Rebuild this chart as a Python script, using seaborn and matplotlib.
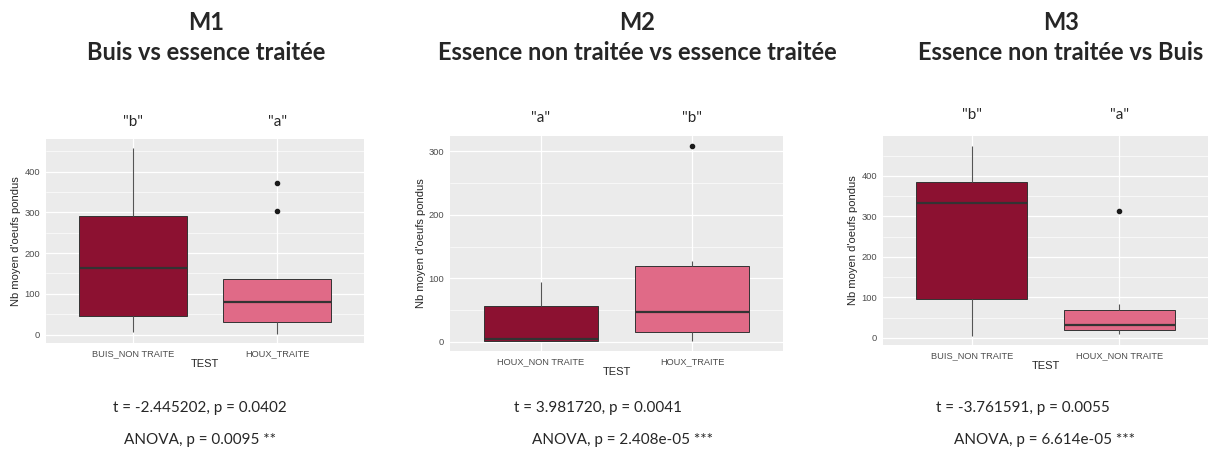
import numpy as np
import pandas as pd
import matplotlib
matplotlib.use("Agg")
import matplotlib.pyplot as plt
import seaborn as sns

W, H = 1210, 454

# ---- data ----
m1_groups = ["BUIS_NON TRAITE", "HOUX_TRAITE"]
m1_buis_non_traite = [7, 45, 163, 290, 457]
m1_houx_traite = [2, 15, 30, 55, 79, 110, 136, 303, 371]

m2_groups = ["HOUX_NON TRAITE", "HOUX_TRAITE"]
m2_houx_non_traite = [1, 1.5, 5, 56, 95]
m2_houx_traite = [1, 8, 16, 30, 47, 90, 120, 127, 309]

m3_groups = ["BUIS_NON TRAITE", "HOUX_NON TRAITE"]
m3_buis_non_traite = [6, 95, 334, 385, 475]
m3_houx_non_traite = [10, 15, 20, 28, 33, 50, 68, 83, 314]

model_names = ["M1", "M2", "M3"]
subtitles = ["Buis vs essence traitée",
             "Essence non traitée vs essence traitée",
             "Essence non traitée vs Buis"]
letters = [['"b"', '"a"'], ['"a"', '"b"'], ['"b"', '"a"']]
t_tests = ["t = -2.445202, p = 0.0402",
           "t = 3.981720, p = 0.0041",
           "t = -3.761591, p = 0.0055"]
anovas = ["ANOVA, p = 0.0095 **",
          "ANOVA, p = 2.408e-05 ***",
          "ANOVA, p = 6.614e-05 ***"]

dark_red = "#8C1131"
pink = "#E06A87"

panels = [
    (m1_groups, [m1_buis_non_traite, m1_houx_traite]),
    (m2_groups, [m2_houx_non_traite, m2_houx_traite]),
    (m3_groups, [m3_buis_non_traite, m3_houx_non_traite]),
]

# layout in pixels: axes box (left, top, right, bottom)
ax_boxes = [(46, 139, 364, 343), (450, 136, 783, 351), (883, 136, 1208, 345)]
title_x = [206, 637, 1061]
letter_y = [122, 118, 115]
t_pos = [(200, 408), (598, 408), (1023, 408)]
anova_pos = [(200, 440), (623, 440), (1044, 440)]

sns.set_theme(style="darkgrid", rc={
    "axes.facecolor": "#EBEBEB",
    "grid.color": "white",
    "figure.facecolor": "white",
})
plt.rcParams["font.family"] = ["Liberation Sans", "DejaVu Sans"]

fig = plt.figure(figsize=(W / 100, H / 100), dpi=100)


def rect(l, t, r, b):
    return [l / W, 1 - b / H, (r - l) / W, (b - t) / H]


for i, (groups, values) in enumerate(panels):
    df = pd.DataFrame({
        "TEST": np.repeat(groups, [len(v) for v in values]),
        "oeufs": np.concatenate(values),
    })
    ax = fig.add_axes(rect(*ax_boxes[i]))
    sns.boxplot(data=df, x="TEST", y="oeufs", hue="TEST", order=groups,
                hue_order=groups, palette=[dark_red, pink], legend=False,
                saturation=1, width=0.75, showcaps=False,
                linecolor="#333333", linewidth=0.7,
                whiskerprops={"color": "#555555", "linewidth": 0.8},
                medianprops={"color": "#333333", "linewidth": 1.6},
                flierprops={"marker": "o", "markerfacecolor": "#1a1a1a",
                            "markeredgecolor": "#1a1a1a", "markersize": 3},
                ax=ax)
    # ggplot-like limits: 5% expansion of the data range
    lo = min(min(v) for v in values)
    hi = max(max(v) for v in values)
    pad = 0.05 * (hi - lo)
    ax.set_ylim(lo - pad, hi + pad)
    ax.set_xlim(-0.6, 1.6)
    ax.set_yticks(np.arange(0, hi + pad, 100))
    ax.set_yticks(np.arange(50, hi + pad, 100), minor=True)
    ax.grid(True, which="major", color="white", linewidth=0.9)
    ax.grid(True, which="minor", axis="y", color="white", linewidth=0.45)
    ax.tick_params(axis="both", which="major", length=2.8, width=0.5,
                   color="#333333", labelcolor="#4D4D4D", labelsize=6.7, pad=1.5)
    ax.tick_params(axis="both", which="minor", length=0)
    ax.set_xlabel("TEST", fontsize=8, labelpad=1)
    ax.set_ylabel("Nb moyen d'oeufs pondus", fontsize=8, labelpad=2)
    for s in ax.spines.values():
        s.set_visible(False)

    # titles and annotations
    fig.text(title_x[i] / W, 1 - 22 / H, model_names[i], ha="center",
             va="center", fontsize=17, fontweight="bold", family="Lato")
    fig.text(title_x[i] / W, 1 - 52 / H, subtitles[i], ha="center",
             va="center", fontsize=17, fontweight="bold", family="Lato")
    for j, lab in enumerate(letters[i]):
        xd = ax.transData.transform((j, 0))[0]
        fig.text(xd / W, 1 - letter_y[i] / H, lab, ha="center", va="center",
                 fontsize=11, family="Lato")
    fig.text(t_pos[i][0] / W, 1 - t_pos[i][1] / H, t_tests[i], ha="center",
             va="center", fontsize=11, family="Lato")
    fig.text(anova_pos[i][0] / W, 1 - anova_pos[i][1] / H, anovas[i],
             ha="center", va="center", fontsize=11, family="Lato")

fig.savefig("out.png", dpi=100)
